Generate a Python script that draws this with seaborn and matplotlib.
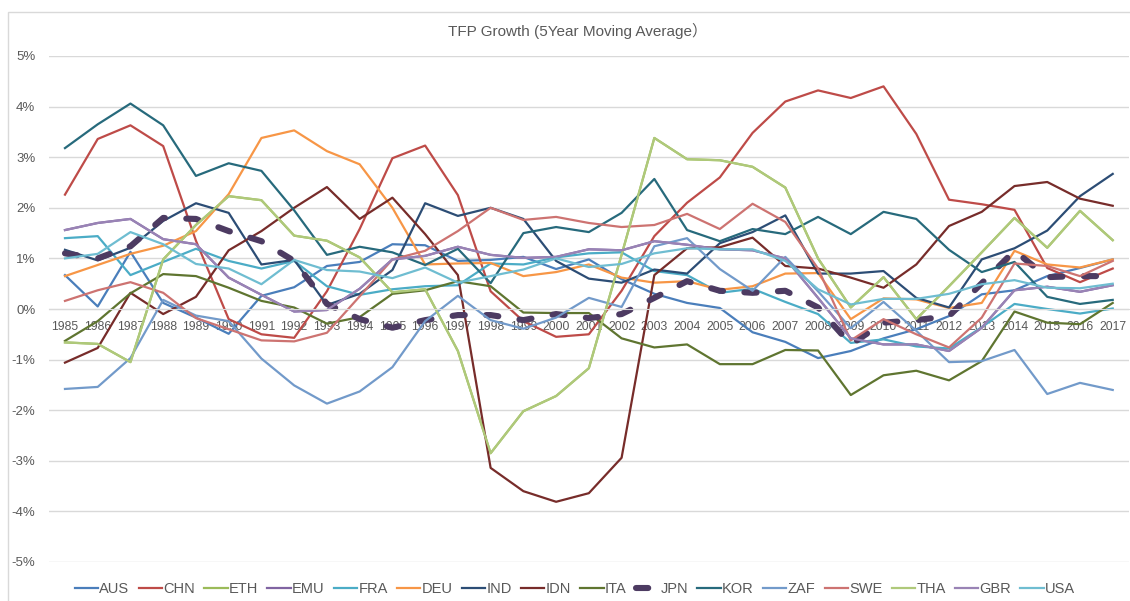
import numpy as np
import pandas as pd
import matplotlib
matplotlib.use("Agg")
import matplotlib.pyplot as plt
from matplotlib.patches import Rectangle
from matplotlib.ticker import FuncFormatter
import seaborn as sns

# %%
# values, in percent
years = list(range(1985, 2018))

aus = [0.67, 0.05, 1.13, 0.12, -0.17, -0.49, 0.26, 0.43, 0.85, 0.93, 1.28, 1.26, 0.95, 0.97, 1.03, 0.79, 0.98,
       0.59, 0.30, 0.12, 0.02, -0.46, -0.65, -0.97, -0.83, -0.58, -0.40, -0.14, 0.29, 0.37, 0.65, 0.81, 0.98]
chn = [2.26, 3.36, 3.63, 3.22, 1.35, -0.20, -0.50, -0.57, 0.35, 1.58, 2.98, 3.23, 2.25, 0.35, -0.24, -0.55, -0.50,
       0.36, 1.44, 2.10, 2.60, 3.48, 4.10, 4.32, 4.17, 4.40, 3.46, 2.16, 2.07, 1.96, 0.81, 0.53, 0.80]
tha = [-0.66, -0.69, -1.05, 0.98, 1.66, 2.23, 2.15, 1.45, 1.35, 1.02, 0.33, 0.39, -0.83, -2.85, -2.02, -1.72, -1.17,
       1.07, 3.38, 2.96, 2.94, 2.81, 2.40, 1.00, 0.03, 0.63, -0.20, 0.45, 1.12, 1.80, 1.21, 1.94, 1.36]
# only one light green line is visible: ETH lies under THA
eth = list(tha)
gbr = [1.56, 1.70, 1.78, 1.38, 1.28, 0.62, 0.28, -0.05, -0.02, 0.40, 0.98, 1.05, 1.23, 1.07, 1.01, 1.03, 1.18,
       1.16, 1.34, 1.27, 1.18, 1.16, 1.00, 0.22, -0.58, -0.70, -0.70, -0.83, -0.37, 0.37, 0.44, 0.34, 0.47]
# only one purple line is visible: EMU lies under GBR
emu = list(gbr)
fra = [1.40, 1.44, 0.67, 0.93, 1.19, 0.95, 0.80, 0.95, 0.45, 0.28, 0.39, 0.45, 0.47, 0.90, 0.88, 1.02, 1.10,
       1.12, 0.75, 0.67, 0.32, 0.40, 0.14, -0.10, -0.67, -0.60, -0.74, -0.78, -0.36, 0.10, 0.00, -0.09, 0.01]
deu = [0.65, 0.87, 1.09, 1.25, 1.54, 2.27, 3.38, 3.53, 3.12, 2.86, 2.00, 0.88, 0.90, 0.91, 0.65, 0.73, 0.88,
       0.62, 0.52, 0.55, 0.38, 0.45, 0.70, 0.71, -0.20, 0.21, 0.19, 0.02, 0.12, 1.15, 0.88, 0.82, 0.98]
ind = [1.17, 0.96, 1.21, 1.74, 2.09, 1.90, 0.88, 0.97, 0.08, 0.30, 0.77, 2.09, 1.84, 2.00, 1.78, 0.95, 0.60,
       0.52, 0.78, 0.70, 1.30, 1.52, 1.85, 0.70, 0.70, 0.75, 0.22, 0.03, 0.98, 1.20, 1.55, 2.23, 2.67]
idn = [-1.06, -0.77, 0.32, -0.10, 0.24, 1.16, 1.54, 2.00, 2.41, 1.78, 2.20, 1.48, 0.67, -3.14, -3.60, -3.81, -3.64,
       -2.94, 0.67, 1.20, 1.22, 1.41, 0.85, 0.80, 0.62, 0.42, 0.88, 1.64, 1.92, 2.43, 2.51, 2.18, 2.04]
ita = [-0.63, -0.24, 0.31, 0.69, 0.65, 0.42, 0.16, 0.03, -0.29, -0.16, 0.30, 0.37, 0.55, 0.45, -0.07, -0.08, -0.08,
       -0.58, -0.76, -0.70, -1.09, -1.09, -0.81, -0.82, -1.70, -1.31, -1.22, -1.41, -1.03, -0.05, -0.27, -0.30, 0.12]
jpn = [1.10, 1.00, 1.24, 1.80, 1.78, 1.54, 1.34, 0.95, 0.10, -0.20, -0.37, -0.22, -0.12, -0.12, -0.22, -0.10, -0.18,
       -0.10, 0.22, 0.55, 0.36, 0.32, 0.36, 0.03, -0.70, -0.27, -0.22, -0.14, 0.51, 1.15, 0.63, 0.65, 0.65]
kor = [3.18, 3.65, 4.06, 3.63, 2.63, 2.88, 2.73, 1.95, 1.07, 1.23, 1.12, 0.87, 1.19, 0.51, 1.50, 1.62, 1.52,
       1.90, 2.57, 1.56, 1.34, 1.58, 1.48, 1.82, 1.48, 1.92, 1.78, 1.17, 0.73, 0.93, 0.24, 0.10, 0.18]
zaf = [-1.58, -1.54, -0.97, 0.18, -0.13, -0.24, -0.98, -1.51, -1.87, -1.63, -1.15, -0.24, 0.26, -0.22, -0.39, -0.17, 0.22,
       0.04, 1.24, 1.40, 0.79, 0.36, 1.03, 0.35, -0.38, 0.14, -0.43, -1.05, -1.03, -0.81, -1.68, -1.46, -1.60]
swe = [0.16, 0.37, 0.53, 0.32, -0.18, -0.40, -0.62, -0.64, -0.47, 0.25, 0.98, 1.15, 1.54, 2.00, 1.76, 1.82, 1.70,
       1.62, 1.66, 1.88, 1.58, 2.08, 1.72, 0.80, -0.62, -0.20, -0.50, -0.76, -0.17, 0.90, 0.85, 0.65, 0.95]
usa = [1.00, 1.09, 1.52, 1.28, 0.89, 0.80, 0.49, 0.97, 0.77, 0.74, 0.61, 0.82, 0.52, 0.65, 0.78, 1.00, 0.83,
       0.89, 1.10, 1.20, 1.18, 1.18, 0.95, 0.39, 0.09, 0.20, 0.20, 0.30, 0.49, 0.57, 0.42, 0.41, 0.50]

countries = ["AUS", "CHN", "ETH", "EMU", "FRA", "DEU", "IND", "IDN", "ITA", "JPN",
             "KOR", "ZAF", "SWE", "THA", "GBR", "USA"]
series = [aus, chn, eth, emu, fra, deu, ind, idn, ita, jpn, kor, zaf, swe, tha, gbr, usa]
colors = ["#4A7EBB", "#BE4B48", "#9BBB59", "#8064A2", "#4BACC6", "#F79646", "#2C4D75", "#772C2A",
          "#5F7530", "#4D3B62", "#276A7C", "#729ACA", "#CD7371", "#AFC97A", "#9983B5", "#6FBDD1"]

# %%
font = ["Liberation Sans", "Noto Sans CJK JP"]
plt.rcParams["font.family"] = font
grey = "#595959"
grid = "#D9D9D9"

fig = plt.figure(figsize=(11.3, 6.01), dpi=100)
ax = fig.add_axes([48.6 / 1130, 39 / 601, 1080.5 / 1130, 506 / 601])

for name, vals, col in zip(countries, series, colors):
    if name == "JPN":
        sns.lineplot(x=years, y=vals, ax=ax, color=col, lw=4.4, label=name,
                     linestyle=(0, (2.0, 3.5)), dash_capstyle="round")
    else:
        sns.lineplot(x=years, y=vals, ax=ax, color=col, lw=1.6, label=name)

ax.get_legend().remove()
ax.set_xlim(1984.5, 2017.5)
ax.set_ylim(-5, 5)
ax.set_yticks(np.arange(-5, 6, 1))
ax.yaxis.set_major_formatter(FuncFormatter(lambda v, p: f"{v:.0f}%"))
ax.set_xticks(years)
ax.set_xticklabels([str(y) for y in years])
ax.set_xlabel("")
ax.set_ylabel("")

ax.grid(axis="y", color=grid, lw=1)
ax.grid(axis="x", visible=False)
ax.set_axisbelow(True)
for s in ["left", "right", "top"]:
    ax.spines[s].set_visible(False)
ax.spines["bottom"].set_position(("data", 0))
ax.spines["bottom"].set_color(grid)
ax.tick_params(axis="x", length=0, pad=8.5, labelsize=8.8, labelcolor=grey)
ax.tick_params(axis="y", length=0, pad=9.5, labelsize=9.5, labelcolor=grey)

fig.text(0.511, 1 - 31 / 601, "TFP Growth (5Year Moving Average）", ha="center", va="center",
         fontsize=11, color=grey, family=font)

handles, labels = ax.get_legend_handles_labels()
fig.legend(handles, labels, loc="center", bbox_to_anchor=(575 / 1130, 1 - 589 / 601), ncol=16,
           frameon=False, fontsize=10.5, handlelength=1.6, handletextpad=0.1, columnspacing=0.62,
           labelcolor=grey)

fig.patches.append(Rectangle((8 / 1130, -0.05), 1.2, 1 - 12 / 601 + 0.05, transform=fig.transFigure,
                             fill=False, edgecolor=grid, lw=1))

fig.savefig("out.png", dpi=100)
